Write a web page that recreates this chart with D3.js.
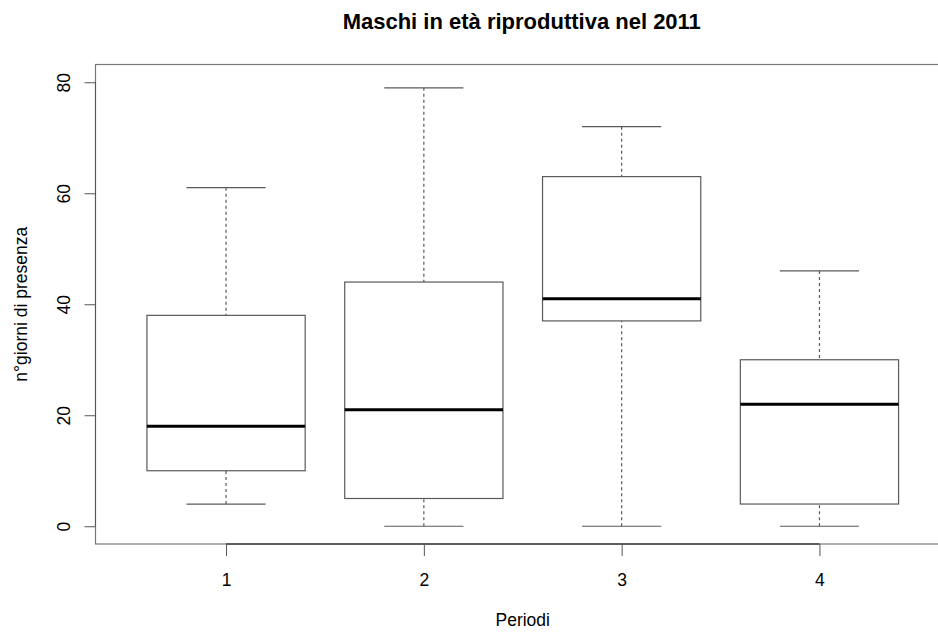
<!DOCTYPE html>
<html>
<head>
<meta charset="utf-8">
<script src="https://cdn.jsdelivr.net/npm/d3@7"></script>
<style>
  body { margin: 0; background: #fff; }
  svg { display: block; font-family: "Liberation Sans", Arial, Helvetica, sans-serif; }
</style>
</head>
<body>
<svg id="chart" width="938" height="633"></svg>
<script>
// Summary statistics for each period (days of presence)
const periods   = ["1", "2", "3", "4"];
const whiskerLo = [4, 0, 0, 0];
const q1        = [10, 5, 37, 4];
const medians   = [18, 21, 41, 22];
const q3        = [38, 44, 63, 30];
const whiskerHi = [61, 79, 72, 46];
const yTicks    = [0, 20, 40, 60, 80];

const titleText = "Maschi in età riproduttiva nel 2011";
const xLabel = "Periodi";
const yLabel = "n°giorni di presenza";

const boxes = periods.map((p, i) => ({
  p, lo: whiskerLo[i], q1: q1[i], med: medians[i], q3: q3[i], hi: whiskerHi[i]
}));

const svg = d3.select("#chart");

// Plot region
const plotL = 95.5, plotR = 950, plotT = 64.5, plotB = 544;
const fs = 17.5;

const x = d3.scaleLinear().domain([0.34, 4.66]).range([plotL, plotR]);
const y = d3.scaleLinear().domain([-3.2, 83.2]).range([plotB, plotT]);

const boxHalf = 0.4;   // half box width in x units
const capHalf = 0.2;   // half whisker cap width
const lineCol = "#5a5a5a";

const g = svg.append("g");

// Whiskers (dashed)
g.selectAll("line.wlo").data(boxes).join("line")
  .attr("x1", d => x(+d.p)).attr("x2", d => x(+d.p))
  .attr("y1", d => y(d.lo)).attr("y2", d => y(d.q1))
  .attr("stroke", lineCol).attr("stroke-dasharray", "3,3").attr("stroke-width", 1.2);
g.selectAll("line.whi").data(boxes).join("line")
  .attr("x1", d => x(+d.p)).attr("x2", d => x(+d.p))
  .attr("y1", d => y(d.hi)).attr("y2", d => y(d.q3))
  .attr("stroke", lineCol).attr("stroke-dasharray", "3,3").attr("stroke-width", 1.2);

// Caps
["lo", "hi"].forEach(k => {
  g.selectAll("line.cap" + k).data(boxes).join("line")
    .attr("x1", d => x(+d.p - capHalf)).attr("x2", d => x(+d.p + capHalf))
    .attr("y1", d => y(d[k])).attr("y2", d => y(d[k]))
    .attr("stroke", lineCol).attr("stroke-width", 1.2);
});

// Boxes
g.selectAll("rect.box").data(boxes).join("rect")
  .attr("x", d => x(+d.p - boxHalf))
  .attr("width", d => x(+d.p + boxHalf) - x(+d.p - boxHalf))
  .attr("y", d => y(d.q3))
  .attr("height", d => y(d.q1) - y(d.q3))
  .attr("fill", "none").attr("stroke", lineCol).attr("stroke-width", 1.2);

// Medians
g.selectAll("line.med").data(boxes).join("line")
  .attr("x1", d => x(+d.p - boxHalf)).attr("x2", d => x(+d.p + boxHalf))
  .attr("y1", d => y(d.med)).attr("y2", d => y(d.med))
  .attr("stroke", "#000").attr("stroke-width", 3);

// Plot frame
svg.append("rect")
  .attr("x", plotL).attr("y", plotT)
  .attr("width", plotR - plotL).attr("height", plotB - plotT)
  .attr("fill", "none").attr("stroke", "#777").attr("stroke-width", 1.2);

// Y axis
const yAxis = d3.axisLeft(y).tickValues(yTicks).tickSize(11).tickPadding(0).tickFormat(d3.format("d"));
const ya = svg.append("g").attr("transform", `translate(${plotL},0)`).call(yAxis);
ya.attr("font-family", null).attr("font-size", null);
ya.select(".domain").attr("d", `M0,${y(0)}V${y(80)}`).attr("stroke", "#555");
ya.selectAll(".tick line").attr("stroke", "#555");
ya.selectAll(".tick text")
  .attr("font-size", fs).attr("fill", "#000")
  .attr("text-anchor", "middle")
  .attr("x", 0).attr("y", 0).attr("dy", null)
  .attr("transform", "translate(-25.5,0) rotate(-90)");

// X axis
const xAxis = d3.axisBottom(x).tickValues(periods.map(Number)).tickSize(12).tickPadding(0).tickFormat((d, i) => periods[i]);
const xa = svg.append("g").attr("transform", `translate(0,${plotB})`).call(xAxis);
xa.attr("font-family", null).attr("font-size", null);
xa.select(".domain").attr("d", `M${x(1)},0H${x(4)}`).attr("stroke", "#444").attr("stroke-width", 1.5);
xa.selectAll(".tick line").attr("stroke", "#555");
xa.selectAll(".tick text").attr("font-size", fs).attr("fill", "#000").attr("y", 42).attr("dy", null);

// Title and axis labels
const cx = (plotL + plotR) / 2;
svg.append("text").attr("x", cx - 1).attr("y", 28.5)
  .attr("text-anchor", "middle").attr("font-size", 22).attr("font-weight", "bold")
  .text(titleText);
svg.append("text").attr("x", cx).attr("y", 626)
  .attr("text-anchor", "middle").attr("font-size", fs)
  .text(xLabel);
svg.append("text")
  .attr("transform", `translate(27,${(plotT + plotB) / 2}) rotate(-90)`)
  .attr("text-anchor", "middle").attr("font-size", fs)
  .text(yLabel);
</script>
</body>
</html>
